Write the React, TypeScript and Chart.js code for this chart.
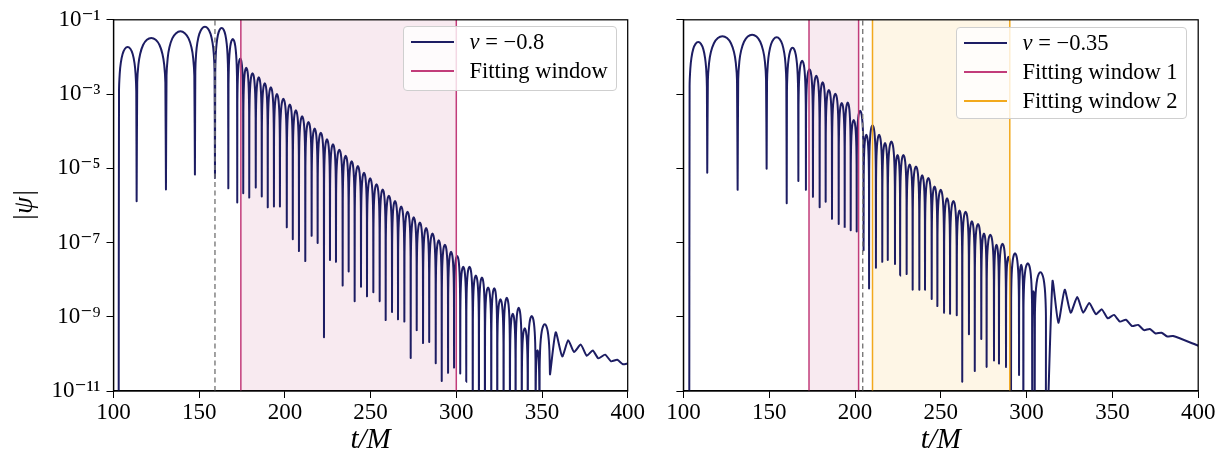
import React, { useEffect, useRef } from 'react';
import { Chart, registerables } from 'chart.js';

Chart.register(...registerables);

// ---------- axes ----------
const X_TICKS = [100, 150, 200, 250, 300, 350, 400];
const Y_TICK_VALUES = [1e-11, 1e-9, 1e-7, 1e-5, 1e-3, 1e-1];
const Y_TICK_LABELS = ['10⁻¹¹', '10⁻⁹', '10⁻⁷', '10⁻⁵', '10⁻³', '10⁻¹'];

// ---------- left panel (v = -0.8) ----------
// times of the cusps (zeros of psi) and log10|psi| reached at each cusp (-13: below the axis)
const L_DIP_T = [103.0, 113.5, 130.6, 147.5, 159.2, 167.0, 172.2, 175.7, 179.2, 183.0, 186.5, 190.0, 193.6, 197.1, 201.1, 204.6, 208.2, 211.9, 215.6, 219.1, 222.8, 226.3, 229.8, 233.7, 237.2, 240.7, 244.4, 247.9, 251.6, 255.3, 258.8, 262.5, 266.0, 269.7, 273.4, 276.9, 280.6, 284.2, 288.0, 291.5, 295.2, 298.7, 302.3, 305.8, 309.6, 313.2, 316.7, 320.4, 323.9, 327.6, 331.3, 334.6, 338.2, 341.7, 346.3, 348.5, 354.7];
const L_DIP_LOG = [-13, -5.89, -5.57, -5.17, -5.26, -5.54, -5.92, -5.67, -5.79, -5.52, -5.76, -6.05, -6.03, -6.03, -6.59, -6.91, -7.23, -7.5, -6.82, -7.01, -9.55, -7.47, -7.52, -8.16, -7.78, -8.58, -8.19, -8.45, -8.34, -8.58, -9.09, -8.87, -9.07, -9.13, -10.11, -9.36, -9.71, -9.68, -10.25, -10.73, -10.51, -10.37, -10.53, -10.75, -13, -13, -13, -13, -13, -13, -13, -13, -13, -13, -13, -13, -10.55];
// log10 of the top of each arc between two consecutive cusps
const L_PEAK_LOG = [-1.73, -1.49, -1.31, -1.19, -1.22, -1.52, -2.04, -2.29, -2.44, -2.55, -2.71, -2.82, -3.0, -3.13, -3.28, -3.44, -3.6, -3.75, -3.93, -4.04, -4.22, -4.35, -4.5, -4.66, -4.81, -4.94, -5.12, -5.27, -5.43, -5.57, -5.74, -5.88, -6.03, -6.17, -6.32, -6.46, -6.61, -6.76, -6.94, -7.06, -7.25, -7.36, -7.65, -7.65, -7.89, -7.94, -8.21, -8.23, -8.53, -8.49, -8.92, -8.76, -9.31, -8.98, -9.9, -9.2];
// smooth late-time tail: alternating maxima / minima
const L_TAIL_T = [358.0, 361.8, 365.3, 368.7, 372.6, 376.1, 379.6, 382.9, 386.8, 390.3, 393.9, 397.3, 400.0];
const L_TAIL_LOG = [-9.42, -10.07, -9.63, -9.95, -9.75, -10.05, -9.91, -10.12, -10.02, -10.2, -10.16, -10.28, -10.26];
const L_WINDOW = [174.3, 300.0];
const L_PEAK_TIME = 159.2;

// ---------- right panel (v = -0.35) ----------
const R_DIP_T = [103.4, 113.9, 131.6, 148.5, 160.2, 167.0, 171.4, 175.5, 179.4, 182.9, 186.6, 190.5, 194.0, 197.5, 201.0, 205.0, 208.2, 212.2, 215.9, 219.1, 223.3, 226.3, 230.1, 233.6, 237.5, 240.8, 244.7, 248.0, 251.9, 255.4, 259.3, 262.5, 266.4, 269.8, 273.6, 276.7, 281.0, 283.9, 288.0, 290.9, 295.6, 298.1, 303.3, 304.7, 311.4];
const R_DIP_LOG = [-13, -5.12, -5.58, -5.01, -5.94, -5.34, -5.58, -5.77, -6.05, -5.9, -6.36, -6.5, -6.6, -6.67, -6.7, -7.21, -8.24, -7.68, -7.52, -7.47, -7.58, -7.89, -7.85, -8.27, -8.27, -8.27, -8.52, -8.71, -8.89, -8.92, -8.96, -10.75, -9.47, -10.46, -9.6, -10.35, -10.18, -10.26, -10.35, -13, -10.57, -13, -13, -13, -13];
const R_PEAK_LOG = [-1.6, -1.44, -1.4, -1.47, -1.75, -2.1, -2.33, -2.51, -2.68, -2.89, -2.99, -3.24, -3.23, -3.7, -3.45, -4.1, -3.84, -4.1, -4.32, -4.28, -4.64, -4.64, -4.9, -4.95, -5.19, -5.26, -5.49, -5.58, -5.81, -5.88, -6.14, -6.17, -6.43, -6.5, -6.76, -6.79, -7.06, -7.03, -7.38, -7.29, -7.6, -7.56, -8.31, -7.8];
const R_TAIL_T = [315.1, 318.5, 322.2, 325.7, 329.5, 333.0, 336.5, 340.4, 343.8, 347.3, 350.9, 354.4, 357.9, 361.4, 365.0, 368.4, 371.8, 375.2, 378.6, 382.0, 385.4, 400.0];
const R_TAIL_LOG = [-8.04, -9.16, -8.27, -8.89, -8.47, -8.89, -8.63, -8.93, -8.8, -9.04, -8.95, -9.13, -9.08, -9.25, -9.22, -9.36, -9.33, -9.45, -9.43, -9.53, -9.52, -9.78];
const R_WINDOW_1 = [173.2, 202.1];
const R_WINDOW_2 = [210.2, 290.2];
const R_PEAK_TIME = 204.5;

// shape of one |psi| arc between two cusps (fraction of the arc, decades below its top)
const ARC_SHAPE: [number, number][] = [
  [0.02, -1.2], [0.06, -0.72], [0.12, -0.43], [0.22, -0.19], [0.35, -0.05], [0.5, 0],
  [0.65, -0.05], [0.78, -0.19], [0.88, -0.43], [0.94, -0.72], [0.98, -1.2],
];

const NAVY = '#1d1d63';
const PINK = '#c23c7a';
const ORANGE = '#f2a91c';
const GREY = '#7a7a7a';
const FONT = "'Liberation Serif', 'DejaVu Serif', serif";

function buildCurve(dipT: number[], dipLog: number[], peakLog: number[], tailT: number[], tailLog: number[]) {
  const pts: { x: number; y: number }[] = [];
  for (let i = 0; i < dipT.length; i++) {
    pts.push({ x: dipT[i], y: Math.pow(10, dipLog[i]) });
    if (i < peakLog.length) {
      const a = dipT[i];
      const b = dipT[i + 1];
      for (const [u, d] of ARC_SHAPE) pts.push({ x: a + u * (b - a), y: Math.pow(10, peakLog[i] + d) });
    }
  }
  for (let i = 0; i < tailT.length; i++) pts.push({ x: tailT[i], y: Math.pow(10, tailLog[i]) });
  return pts;
}

function vline(x: number, color: string, dash: number[] = [], width = 1.5) {
  return {
    type: 'line' as const,
    data: [{ x, y: 1e-11 }, { x, y: 1e-1 }],
    borderColor: color,
    borderWidth: width,
    borderDash: dash,
    pointRadius: 0,
    fill: false,
    order: 1,
  };
}

function band(range: number[], color: string) {
  return {
    type: 'line' as const,
    data: [{ x: range[0], y: 1e-1 }, { x: range[1], y: 1e-1 }],
    borderWidth: 0,
    borderColor: 'rgba(0,0,0,0)',
    backgroundColor: color,
    pointRadius: 0,
    fill: 'start',
    order: 10,
  };
}

const framePlugin = {
  id: 'frame',
  afterDraw(chart: any) {
    const { ctx, chartArea: a } = chart;
    ctx.save();
    ctx.strokeStyle = '#000';
    ctx.lineWidth = 1.25;
    ctx.strokeRect(a.left, a.top, a.right - a.left, a.bottom - a.top);
    ctx.restore();
  },
};

type PanelProps = {
  left: number;
  width: number;
  yAxisWidth: number;
  padRight: number;
  showYLabels: boolean;
  datasets: any[];
};

function Panel({ left, width, yAxisWidth, padRight, showYLabels, datasets }: PanelProps) {
  const ref = useRef<HTMLCanvasElement | null>(null);
  useEffect(() => {
    if (!ref.current) return;
    const chart = new Chart(ref.current, {
      type: 'line',
      data: { datasets },
      options: {
        animation: false,
        responsive: false,
        maintainAspectRatio: false,
        events: [],
        layout: { padding: { left: 0, top: 15, right: padRight, bottom: 0 } },
        plugins: { legend: { display: false }, tooltip: { enabled: false } },
        scales: {
          x: {
            type: 'linear',
            min: 100,
            max: 400,
            afterBuildTicks: (ax: any) => {
              ax.ticks = X_TICKS.map((v) => ({ value: v }));
            },
            afterFit: (ax: any) => {
              ax.height = 71;
            },
            grid: { drawOnChartArea: false, drawTicks: true, tickLength: 7, color: '#000', lineWidth: 1 },
            border: { display: true, color: '#000', width: 1.25 },
            ticks: {
              color: '#000',
              font: { family: FONT, size: 23 },
              padding: 1,
              maxRotation: 0,
              autoSkip: false,
              callback: (v: any) => String(v),
            },
            title: {
              display: true,
              text: 't/M',
              color: '#000',
              font: { family: FONT, size: 29, style: 'italic' },
              padding: { top: 0, bottom: 4 },
            },
          },
          y: {
            type: 'logarithmic',
            min: 1e-11,
            max: 1e-1,
            afterBuildTicks: (ax: any) => {
              ax.ticks = Y_TICK_VALUES.map((v) => ({ value: v }));
            },
            afterFit: (ax: any) => {
              ax.width = yAxisWidth;
            },
            grid: { drawOnChartArea: false, drawTicks: true, tickLength: 7, color: '#000', lineWidth: 1 },
            border: { display: true, color: '#000', width: 1.25 },
            ticks: {
              color: '#000',
              font: { family: FONT, size: 23 },
              padding: 6,
              autoSkip: false,
              callback: (v: any) => {
                if (!showYLabels) return '';
                const e = Math.round(Math.log10(Number(v)));
                const idx = Y_TICK_VALUES.findIndex((t) => Math.round(Math.log10(t)) === e);
                return idx >= 0 ? Y_TICK_LABELS[idx] : '';
              },
            },
            title: {
              display: showYLabels,
              text: '|ψ|',
              color: '#000',
              font: { family: FONT, size: 27, style: 'italic' },
              padding: { top: 9, bottom: 0 },
            },
          },
        },
      },
      plugins: [framePlugin],
    } as any);
    return () => chart.destroy();
  }, []);
  return (
    <canvas
      ref={ref}
      width={width}
      height={462}
      style={{ position: 'absolute', left, top: 0, width, height: 462 }}
    />
  );
}

function Legend({ left, top, width, height, rows }: { left: number; top: number; width: number; height: number; rows: { color: string; label: React.ReactNode }[] }) {
  return (
    <div
      style={{
        position: 'absolute',
        left,
        top,
        width,
        height,
        boxSizing: 'border-box',
        border: '1px solid #cfcfcf',
        borderRadius: 4,
        background: 'rgba(255,255,255,0.8)',
        fontFamily: FONT,
        fontSize: 22.5,
        color: '#000',
      }}
    >
      {rows.map((r, i) => {
        const cy = 14.5 + i * 29.2;
        return (
          <React.Fragment key={i}>
            <div style={{ position: 'absolute', left: 6.5, top: cy - 1, width: 43, height: 2, background: r.color }} />
            <div style={{ position: 'absolute', left: 65.5, top: cy - 14, height: 28, lineHeight: '28px', whiteSpace: 'nowrap' }}>{r.label}</div>
          </React.Fragment>
        );
      })}
    </div>
  );
}

export default function App() {
  const leftData = [
    band(L_WINDOW, 'rgba(194,60,122,0.11)'),
    {
      type: 'line',
      label: 'v = −0.8',
      data: buildCurve(L_DIP_T, L_DIP_LOG, L_PEAK_LOG, L_TAIL_T, L_TAIL_LOG),
      borderColor: NAVY,
      borderWidth: 2,
      pointRadius: 0,
      tension: 0.2,
      fill: false,
      order: 5,
    },
    vline(L_PEAK_TIME, GREY, [5, 3.5], 1.4),
    vline(L_WINDOW[0], PINK),
    vline(L_WINDOW[1], PINK),
  ];
  const rightData = [
    band(R_WINDOW_1, 'rgba(194,60,122,0.11)'),
    band(R_WINDOW_2, 'rgba(242,169,28,0.11)'),
    {
      type: 'line',
      label: 'v = −0.35',
      data: buildCurve(R_DIP_T, R_DIP_LOG, R_PEAK_LOG, R_TAIL_T, R_TAIL_LOG),
      borderColor: NAVY,
      borderWidth: 2,
      pointRadius: 0,
      tension: 0.2,
      fill: false,
      order: 5,
    },
    vline(R_PEAK_TIME, GREY, [5, 3.5], 1.4),
    vline(R_WINDOW_1[0], PINK),
    vline(R_WINDOW_1[1], PINK),
    vline(R_WINDOW_2[0], ORANGE),
    vline(R_WINDOW_2[1], ORANGE),
  ];
  return (
    <div style={{ position: 'fixed', left: 0, top: 0, width: 1232, height: 462, background: '#fff', overflow: 'hidden' }}>
      <Panel left={0} width={660} yAxisWidth={113.5} padRight={660 - 627.7} showYLabels={true} datasets={leftData} />
      <Panel left={640} width={592} yAxisWidth={43.4} padRight={592 - 558.2} showYLabels={false} datasets={rightData} />
      <Legend
        left={403}
        top={26}
        width={214}
        height={65}
        rows={[
          { color: NAVY, label: <span><i>v</i>{' = −0.8'}</span> },
          { color: PINK, label: 'Fitting window' },
        ]}
      />
      <Legend
        left={956}
        top={27}
        width={231}
        height={92}
        rows={[
          { color: NAVY, label: <span><i>v</i>{' = −0.35'}</span> },
          { color: PINK, label: 'Fitting window 1' },
          { color: ORANGE, label: 'Fitting window 2' },
        ]}
      />
    </div>
  );
}
